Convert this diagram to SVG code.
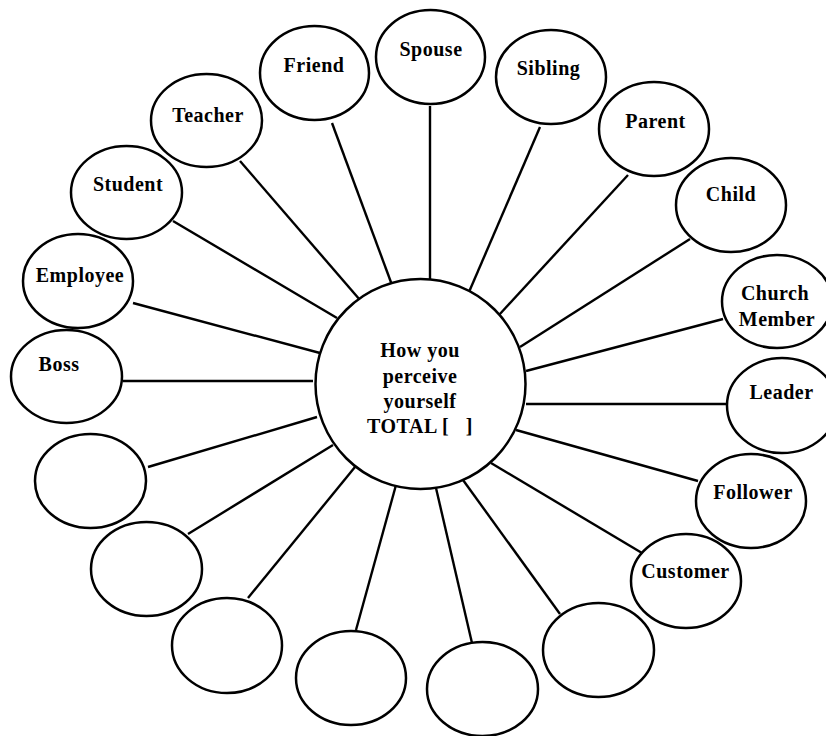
<svg xmlns="http://www.w3.org/2000/svg" width="826" height="736" viewBox="0 0 826 736">
<style>
.n{fill:#fff;stroke:#000;stroke-width:2.5}
.c line{stroke:#000;stroke-width:2.4}
text{font-family:"Liberation Serif","Times New Roman",serif;font-weight:bold;font-size:20px;letter-spacing:0.5px;fill:#000;text-anchor:middle}
</style>
<rect width="826" height="736" fill="#fff"/>
<g class="c" id="connectors">
<line x1="332" y1="123" x2="392" y2="285"/>
<line x1="240" y1="161" x2="360" y2="300"/>
<line x1="173" y1="221" x2="337" y2="318"/>
<line x1="430" y1="106" x2="430" y2="283"/>
<line x1="540" y1="127" x2="469" y2="292"/>
<line x1="628" y1="175" x2="499" y2="315"/>
<line x1="690" y1="239" x2="520" y2="347"/>
<line x1="723" y1="319" x2="526" y2="371"/>
<line x1="526" y1="404" x2="728" y2="404"/>
<line x1="516" y1="430" x2="698" y2="481"/>
<line x1="491" y1="463" x2="642" y2="553"/>
<line x1="463" y1="480" x2="560" y2="614"/>
<line x1="436" y1="488" x2="472" y2="643"/>
<line x1="396" y1="485" x2="356" y2="630"/>
<line x1="355" y1="467" x2="248" y2="598"/>
<line x1="333" y1="445" x2="188" y2="534"/>
<line x1="317" y1="417" x2="148" y2="467"/>
<line x1="123" y1="381" x2="313" y2="381"/>
<line x1="133" y1="303" x2="320" y2="353"/>
</g>
<g id="center"><circle class="n" cx="420.5" cy="384" r="105"/>
<text x="420" y="357">How you</text><text x="420" y="383">perceive</text><text x="420" y="408">yourself</text><text x="420" y="433">TOTAL [ &#160; ]</text></g>
<g id="friend"><ellipse class="n" cx="314.5" cy="73" rx="54.5" ry="47"/><text x="314" y="72">Friend</text></g>
<g id="teacher"><ellipse class="n" cx="206.5" cy="120.5" rx="55.5" ry="46.5"/><text x="208" y="122">Teacher</text></g>
<g id="student"><ellipse class="n" cx="126.5" cy="192.5" rx="55.5" ry="46.5"/><text x="128" y="191">Student</text></g>
<g id="spouse"><ellipse class="n" cx="430.5" cy="57" rx="54.5" ry="47"/><text x="431" y="56">Spouse</text></g>
<g id="sibling"><ellipse class="n" cx="551" cy="77" rx="55" ry="47"/><text x="548.5" y="75">Sibling</text></g>
<g id="parent"><ellipse class="n" cx="654" cy="129" rx="55" ry="47"/><text x="655.5" y="128">Parent</text></g>
<g id="child"><ellipse class="n" cx="731" cy="205" rx="55" ry="47"/><text x="731" y="201">Child</text></g>
<g id="church-member"><ellipse class="n" cx="777" cy="301.5" rx="55" ry="46.5"/><text x="775" y="300">Church</text><text x="777" y="326">Member</text></g>
<g id="leader"><ellipse class="n" cx="782" cy="405.5" rx="55" ry="47.5"/><text x="781.5" y="399">Leader</text></g>
<g id="follower"><ellipse class="n" cx="751" cy="501" rx="55" ry="47"/><text x="753" y="499">Follower</text></g>
<g id="customer"><ellipse class="n" cx="686" cy="581" rx="55" ry="47"/><text x="685.5" y="578">Customer</text></g>
<g id="blank6"><ellipse class="n" cx="598.5" cy="650" rx="55.5" ry="47"/></g>
<g id="blank5"><ellipse class="n" cx="482.5" cy="689" rx="55.5" ry="47"/></g>
<g id="blank4"><ellipse class="n" cx="351" cy="678" rx="55" ry="47"/></g>
<g id="blank3"><ellipse class="n" cx="227" cy="645.5" rx="55" ry="47.5"/></g>
<g id="blank2"><ellipse class="n" cx="146.5" cy="569" rx="55.5" ry="47"/></g>
<g id="blank1"><ellipse class="n" cx="90.5" cy="481" rx="55.5" ry="47"/></g>
<g id="boss"><ellipse class="n" cx="66.5" cy="376.5" rx="55.5" ry="46.5"/><text x="59" y="371">Boss</text></g>
<g id="employee"><ellipse class="n" cx="78" cy="281" rx="55" ry="47"/><text x="80" y="282">Employee</text></g>
</svg>
